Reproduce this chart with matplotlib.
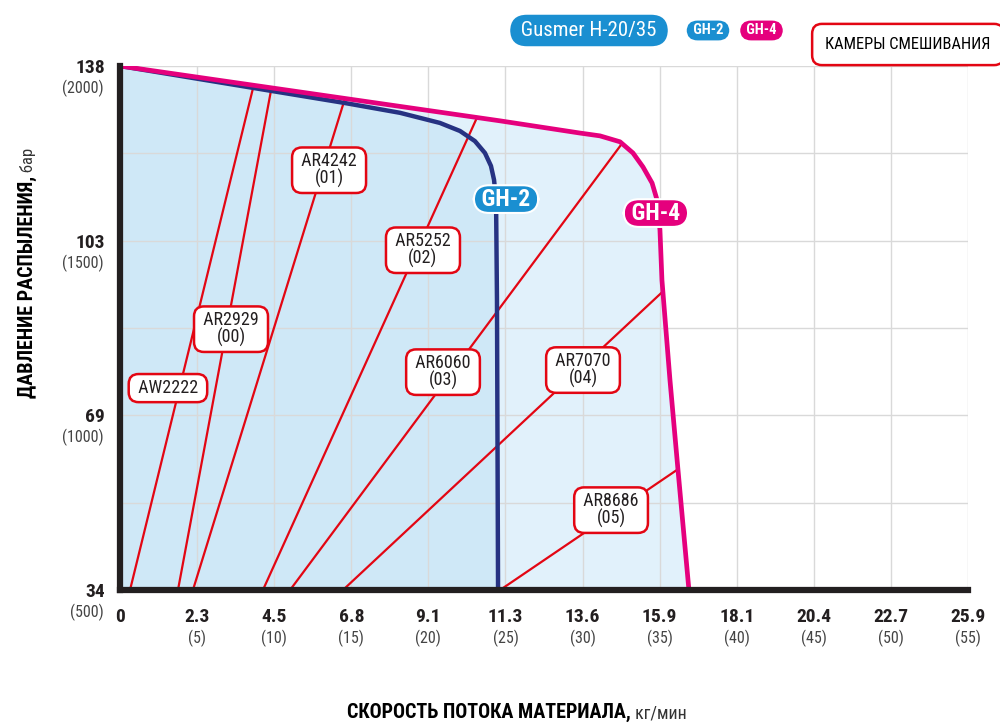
import matplotlib
matplotlib.use("Agg")
import matplotlib.pyplot as plt
from matplotlib.ticker import MultipleLocator

plt.rcParams["font.family"] = ["Roboto Condensed", "Liberation Sans Narrow", "DejaVu Sans"]
plt.rcParams["font.stretch"] = "condensed"

# ── data (x in lb/min, y in psi; labels show kg/min and bar) ─────────
x_ticks_lb = [0, 5, 10, 15, 20, 25, 30, 35, 40, 45, 50, 55]
x_labels_kg = ["0", "2.3", "4.5", "6.8", "9.1", "11.3", "13.6", "15.9",
               "18.1", "20.4", "22.7", "25.9"]
y_ticks_psi = [500, 1000, 1500, 2000]
y_labels_bar = ["34", "69", "103", "138"]

gh2_x = [0, 14.59, 18.16, 20.75, 22.05, 23.02, 23.67, 24.06, 24.26, 24.39, 24.45, 24.52]
gh2_y = [2000, 1894, 1866, 1837, 1814, 1785, 1751, 1714, 1674, 1617, 1330, 500]

gh4_x = [0, 24.65, 29.84, 31.13, 32.43, 33.27, 33.92, 34.51, 34.83, 35.02, 35.15,
         35.67, 36.19, 36.9]
gh4_y = [2000, 1843, 1808, 1800, 1783, 1751, 1711, 1665, 1617, 1531, 1387,
         1101, 844, 500]

chambers = ["AW2222", "AR2929", "AR4242", "AR5252", "AR6060", "AR7070", "AR8686"]
chamber_codes = ["", "(00)", "(01)", "(02)", "(03)", "(04)", "(05)"]
ch_x0 = [0.65, 3.76, 4.73, 9.27, 11.03, 14.46, 24.65]
ch_x1 = [8.63, 9.79, 14.59, 23.15, 32.56, 35.22, 36.13]
ch_y1 = [1937, 1929, 1907, 1852, 1778, 1355, 844]
ch_lab_x = [3.11, 7.2, 13.56, 19.65, 20.95, 30.03, 31.85]
ch_lab_y = [1078, 1247, 1702, 1473, 1124, 1130, 729]

RED = "#e30613"
NAVY = "#263282"
PINK = "#e5007d"
BLUE = "#1a8fd1"
DARK = "#231f20"

fig = plt.figure(figsize=(10, 7.26), dpi=100, facecolor="white")
ax = fig.add_axes([0.12, 0.1873, 0.848, 0.7218])
ax.set_xlim(0, 55)
ax.set_ylim(500, 2000)

# fills: GH-4 envelope lighter, GH-2 envelope darker
ax.fill(gh4_x + [0], gh4_y + [500], color="#e1f1fb", lw=0, zorder=1)
ax.fill(gh2_x + [0], gh2_y + [500], color="#cfe8f7", lw=0, zorder=1.1)

# grid
ax.xaxis.set_major_locator(MultipleLocator(5))
ax.yaxis.set_major_locator(MultipleLocator(500))
ax.yaxis.set_minor_locator(MultipleLocator(250))
ax.grid(True, which="both", color="#d9d9d9", lw=1, zorder=1.5)
ax.set_axisbelow(False)

# chamber lines
for x0, x1, y1 in zip(ch_x0, ch_x1, ch_y1):
    ax.plot([x0, x1], [500, y1], color=RED, lw=1.6, zorder=3, solid_capstyle="butt")

ax.plot(gh2_x, gh2_y, color=NAVY, lw=3.2, zorder=4, solid_joinstyle="round")
ax.plot(gh4_x, gh4_y, color=PINK, lw=3.4, zorder=5, solid_joinstyle="round")

# chamber labels
for name, code, lx, ly in zip(chambers, chamber_codes, ch_lab_x, ch_lab_y):
    txt = f" {name} " if not code else f" {name} \n{code}"
    ax.text(lx, ly, txt, ha="center", va="center", fontsize=13, color=DARK,
            linespacing=0.9, zorder=6,
            bbox=dict(boxstyle="round,pad=0.28,rounding_size=0.55", fc="white",
                      ec=RED, lw=1.8))

ax.text(25.04, 1619, " GH-2 ", ha="center", va="center", fontsize=17, color="white",
        fontweight="bold", zorder=7,
        bbox=dict(boxstyle="round,pad=0.1,rounding_size=0.65", fc=BLUE, ec="white", lw=1.5))
ax.text(34.76, 1579, " GH-4 ", ha="center", va="center", fontsize=17, color="white",
        fontweight="bold", zorder=7,
        bbox=dict(boxstyle="round,pad=0.1,rounding_size=0.65", fc=PINK, ec="white", lw=1.5))

# spines
for s in ["top", "right"]:
    ax.spines[s].set_visible(False)
for s in ["left", "bottom"]:
    ax.spines[s].set_color(DARK)
    ax.spines[s].set_linewidth(4.5)
    ax.spines[s].set_zorder(8)

# ticks
ax.set_xticks(x_ticks_lb)
ax.set_xticklabels(x_labels_kg, fontsize=14, fontweight="bold", color=DARK)
ax.set_yticks(y_ticks_psi)
ax.set_yticklabels(y_labels_bar, fontsize=14, fontweight="bold", color=DARK)
ax.tick_params(axis="both", which="both", length=0)
ax.tick_params(axis="x", pad=13)
ax.tick_params(axis="y", pad=11)

for lb in x_ticks_lb[1:]:
    ax.annotate(f"({lb})", xy=(lb, 0), xycoords=("data", "axes fraction"),
                xytext=(0, -35), textcoords="offset points", ha="center", va="center",
                fontsize=11.5, color="#444444")
for psi in y_ticks_psi:
    ax.annotate(f"({psi})", xy=(0, psi), xycoords=("axes fraction", "data"),
                xytext=(-12, -16), textcoords="offset points", ha="right", va="center",
                fontsize=11.5, color="#444444")

# axis titles: bold part + light unit, placed after measuring
yl = fig.text(0.033, 0.452, "ДАВЛЕНИЕ РАСПЫЛЕНИЯ,", rotation=90, rotation_mode="anchor",
              ha="left", va="baseline", fontsize=14.5, fontweight="bold", color="black")
xl = fig.text(0.347, 0.011, "СКОРОСТЬ ПОТОКА МАТЕРИАЛА,", ha="left", va="baseline",
              fontsize=14.5, fontweight="bold", color="black")
fig.canvas.draw()
r = fig.canvas.get_renderer()
yb = yl.get_window_extent(r)
xb = xl.get_window_extent(r)
fig.text(0.033, yb.y1 / fig.bbox.height, " бар", rotation=90, rotation_mode="anchor",
         ha="left", va="baseline", fontsize=12, color="#333333")
fig.text(xb.x1 / fig.bbox.width, 0.011, " кг/мин", ha="left", va="baseline",
         fontsize=13, color="#333333")

# header legend
fig.text(0.589, 0.958, " Gusmer H-20/35 ", ha="center", va="center", fontsize=15, color="white",
         bbox=dict(boxstyle="round,pad=0.3,rounding_size=0.8", fc=BLUE, ec="none"))
fig.text(0.708, 0.958, " GH-2 ", ha="center", va="center", fontsize=10.5, color="white",
         fontweight="bold",
         bbox=dict(boxstyle="round,pad=0.2,rounding_size=0.75", fc=BLUE, ec="none"))
fig.text(0.7615, 0.958, " GH-4 ", ha="center", va="center", fontsize=10.5, color="white",
         fontweight="bold",
         bbox=dict(boxstyle="round,pad=0.2,rounding_size=0.75", fc=PINK, ec="none"))
fig.text(0.908, 0.9387, "КАМЕРЫ СМЕШИВАНИЯ", ha="center", va="center", fontsize=11.8,
         color="black",
         bbox=dict(boxstyle="round,pad=0.8,rounding_size=0.6", fc="white", ec=RED, lw=1.8))

fig.savefig("out.png", dpi=100, facecolor="white")
